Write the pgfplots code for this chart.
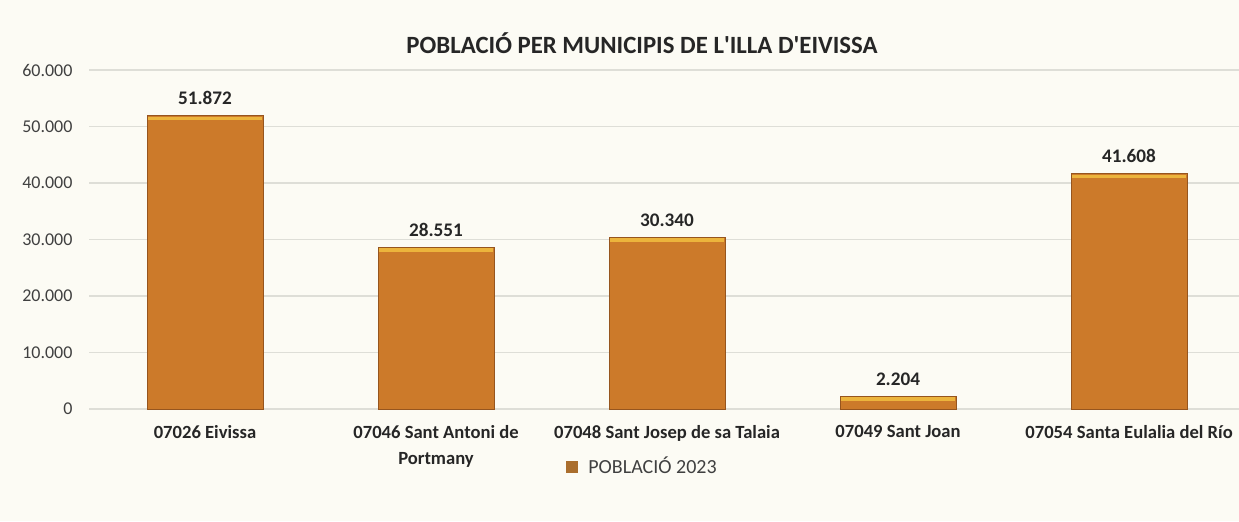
\documentclass[border=0pt]{standalone}
\usepackage{fontspec}
\setmainfont{Carlito}
\usepackage{pgfplots}
\pgfplotsset{compat=1.18}
\definecolor{bg}{RGB}{252,251,244}
\definecolor{barfill}{RGB}{204,122,42}
\definecolor{bardraw}{RGB}{150,85,30}
\definecolor{bartop}{RGB}{236,180,60}
\definecolor{gridc}{RGB}{222,222,215}
\definecolor{txt}{RGB}{64,64,64}
\definecolor{legc}{RGB}{170,110,45}
\begin{document}
\begin{tikzpicture}
\fill[bg] (0,0) rectangle (619.5pt,260.5pt);
\useasboundingbox (0,0) rectangle (619.5pt,260.5pt);
\node[font=\bfseries\fontsize{12.4}{14}\selectfont, text=black!85] at (321pt,239pt) {POBLACIÓ PER MUNICIPIS DE L\textquotesingle ILLA D\textquotesingle EIVISSA};
\begin{axis}[
  at={(44.75pt,56pt)}, anchor=south west,
  scale only axis, width=574.75pt, height=169.5pt,
  xmin=-0.5, xmax=4.476, ymin=0, ymax=60000,
  ytick={0,10000,...,60000},
  scaled y ticks=false,
  xtick=data,
  xticklabels={07026 Eivissa,{07046 Sant Antoni de\\Portmany},07048 Sant Josep de sa Talaia,07049 Sant Joan,07054 Santa Eulalia del Río},
  xticklabel style={align=center, font=\bfseries\fontsize{9.3}{13}\selectfont, text=black!85, yshift=-4.5pt},
  yticklabel style={font=\fontsize{9}{10}\selectfont, text=txt, xshift=-5pt},
  /pgf/number format/.cd, 1000 sep={.}, assume math mode=true, /pgfplots/.cd,
  axis line style={draw=none},
  major tick length=0pt,
  ymajorgrids, grid style={gridc, line width=0.6pt},
  axis x line*=bottom,
  clip=false,
  legend style={at={(0.482,-0.171)}, anchor=center, draw=none, fill=none, font=\fontsize{10}{11}\selectfont, text=txt, inner sep=1pt},
  legend image code/.code={\fill[legc] (0pt,-2.6pt) rectangle (5.4pt,2.6pt); \path (8.5pt,0pt);},
]
\draw[gridc, line width=0.8pt] (axis cs:-0.5,0) -- (axis cs:4.476,0);
\addplot[ybar, bar width=58pt, bar shift=0pt, fill=barfill, draw=bardraw, line width=0.5pt,
  nodes near coords, every node near coord/.append style={font=\bfseries\fontsize{9.6}{10}\selectfont, text=black!85, yshift=2pt},
  nodes near coords style={/pgf/number format/.cd, 1000 sep={.}, assume math mode=true}]
  coordinates {(0,51872) (1,28551) (2,30340) (3,2204) (4,41608)};
\addlegendentry{POBLACIÓ 2023}
\addplot[only marks, mark=-, mark size=28.5pt, mark options={line width=1.6pt, draw=bartop}, yshift=-1.2pt, forget plot]
  coordinates {(0,51872) (1,28551) (2,30340) (3,2204) (4,41608)};
\end{axis}
\end{tikzpicture}
\end{document}
